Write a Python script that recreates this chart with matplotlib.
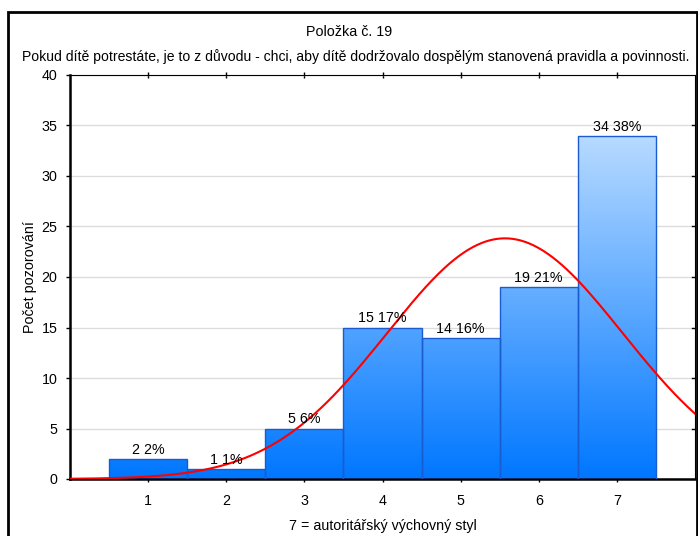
import numpy as np
import matplotlib.pyplot as plt
from matplotlib.patches import Rectangle
from matplotlib.colors import LinearSegmentedColormap

plt.rcParams['font.family'] = ['Liberation Sans', 'DejaVu Sans']

categories = [1, 2, 3, 4, 5, 6, 7]
counts = [2, 1, 5, 15, 14, 19, 34]
percents = [2, 1, 6, 17, 16, 21, 38]
title_top = 'Položka č. 19'
title_question = 'Pokud dítě potrestáte, je to z důvodu - chci, aby dítě dodržovalo dospělým stanovená pravidla a povinnosti.'
xlabel = '7 = autoritářský výchovný styl'
ylabel = 'Počet pozorování'

fs = 10.3

fig = plt.figure(figsize=(6.98, 5.36), dpi=100)
ax = fig.add_axes([70 / 698, 1 - 479 / 536, 625 / 698, 404 / 536])

ax.set_xlim(0, 8)
ax.set_ylim(0, 40)

# blue gradient fill, clipped to each bar
grad_cmap = LinearSegmentedColormap.from_list('bars', ['#0077ff', '#d8ecff'])
grad = np.linspace(0, 1, 256).reshape(-1, 1)
bars = ax.bar(categories, counts, width=1.0, color='none', edgecolor='#1a5cd0', linewidth=1.0, zorder=3)
for b in bars:
    img = ax.imshow(grad, cmap=grad_cmap, origin='lower', extent=[0, 8, 0, 40],
                    aspect='auto', zorder=2)
    img.set_clip_path(b)

for x, c, p in zip(categories, counts, percents):
    ax.text(x, c + 0.2, f'{c} {p}%', ha='center', va='bottom', fontsize=fs, zorder=5)

# fitted normal curve
vals = np.repeat(categories, counts)
mu = vals.mean()
sd = vals.std(ddof=1)
xs = np.linspace(0, 8, 400)
ys = len(vals) / (sd * np.sqrt(2 * np.pi)) * np.exp(-0.5 * ((xs - mu) / sd) ** 2)
ax.plot(xs, ys, color='red', lw=1.5, zorder=4)

ax.set_yticks(range(0, 41, 5))
ax.set_xticks(categories)
ax.yaxis.grid(True, color='#dcdcdc', lw=1)
ax.set_axisbelow(True)
ax.tick_params(axis='both', labelsize=fs, length=3, width=1)
ax.tick_params(axis='x', direction='inout', length=4, top=True, pad=9)
ax.tick_params(axis='y', direction='out', pad=6)

# inward ticks on the right spine
for yv in range(5, 40, 5):
    ax.plot([7.96, 8.0], [yv, yv], color='black', lw=1, clip_on=False, zorder=5)

ax.spines['left'].set_linewidth(1.8)
ax.spines['bottom'].set_linewidth(1.8)
ax.spines['top'].set_linewidth(0.8)
ax.spines['right'].set_linewidth(0.8)

ax.set_xlabel(xlabel, fontsize=fs, labelpad=8)
ax.set_ylabel(ylabel, fontsize=fs, labelpad=3)

fig.text(349 / 698, 1 - 32 / 536, title_top, ha='center', va='center', fontsize=fs)
fig.text(356 / 698, 1 - 57 / 536, title_question, ha='center', va='center', fontsize=10.1)

# outer frame
fig.patches.append(Rectangle((8 / 698, -0.05), 689 / 698, 1 - 12 / 536 + 0.05,
                             transform=fig.transFigure, fill=False,
                             edgecolor='black', linewidth=2))

fig.savefig('out.png', dpi=100)
